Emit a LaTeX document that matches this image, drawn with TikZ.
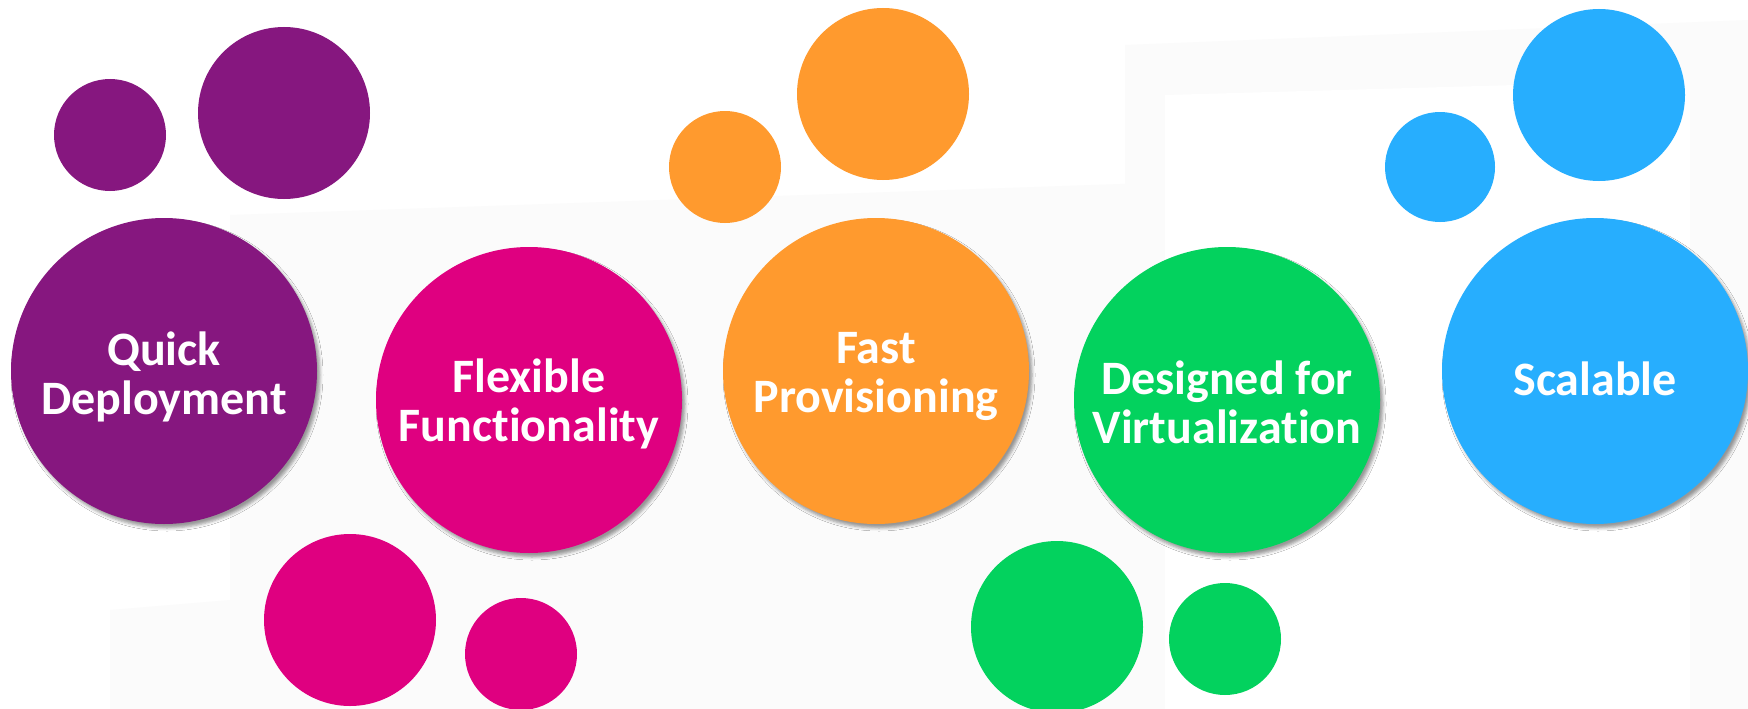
\documentclass[tikz,border=0pt]{standalone}
\usepackage{fontspec}
\setmainfont[Ligatures=NoCommon]{Carlito}
\usetikzlibrary{shadows.blur}

\begin{document}
\begin{tikzpicture}[x=1pt,y=-1pt]

% Colori
\definecolor{colQuick}{HTML}{86177F}
\definecolor{colFlex}{HTML}{DF0080}
\definecolor{colFast}{HTML}{FF9A2E}
\definecolor{colVirt}{HTML}{03D25E}
\definecolor{colScal}{HTML}{27AEFE}
\definecolor{bgGray}{HTML}{FBFBFB}

% Raggi
\def\rBig{153}
\def\rMed{86}
\def\rSmall{56}

\tikzset{
  bigball/.style={circle, inner sep=0pt, minimum size=2*\rBig,
    blur shadow={shadow xshift=3pt, shadow yshift=-4pt,
      shadow blur radius=3pt, shadow opacity=40}},
  medball/.style={circle, inner sep=0pt, minimum size=2*\rMed},
  smallball/.style={circle, inner sep=0pt, minimum size=2*\rSmall},
  balltext/.style={align=center, text=white, inner sep=0pt,
    font=\fontsize{48}{49}\selectfont\bfseries}
}

\useasboundingbox (0,0) rectangle (1748,709);
\fill[white] (0,0) rectangle (1748,709);

% Fogli sullo sfondo
\fill[bgGray] (230,215) -- (1235,180) -- (1235,709) -- (230,709) -- cycle;
\fill[bgGray] (110,610) -- (230,600) -- (230,709) -- (110,709) -- cycle;
\fill[bgGray] (1125,45) -- (1748,20) -- (1748,709) -- (1125,709) -- cycle;
\fill[white] (1165,95) -- (1690,80) -- (1690,709) -- (1165,709) -- cycle;

% Quick Deployment
\node[smallball, fill=colQuick] (qsmall) at (110,135) {};
\node[medball, fill=colQuick] (qmed) at (284,113) {};
\node[bigball, fill=colQuick] (quick) at (164,371) {};
\node[balltext] (quicklbl) at ([yshift=-6]quick.center) {Quick\\Deployment};

% Flexible Functionality
\node[medball, fill=colFlex] (fmed) at (350,620) {};
\node[smallball, fill=colFlex] (fsmall) at (521,654) {};
\node[bigball, fill=colFlex] (flex) at (529,400) {};
\node[balltext] (flexlbl) at ([yshift=-4]flex.center) {Flexible\\Functionality};

% Fast Provisioning
\node[smallball, fill=colFast] (psmall) at (725,167) {};
\node[medball, fill=colFast] (pmed) at (883,94) {};
\node[bigball, fill=colFast] (fast) at (876,371) {};
\node[balltext] (fastlbl) at ([yshift=-5]fast.center) {Fast\\Provisioning};

% Designed for Virtualization
\node[medball, fill=colVirt] (vmed) at (1057,627) {};
\node[smallball, fill=colVirt] (vsmall) at (1225,639) {};
\node[bigball, fill=colVirt] (virt) at (1227,400) {};
\node[balltext] (virtlbl) at ([yshift=-2]virt.center) {Designed for\\Virtualization};

% Scalable
\node[smallball, fill=colScal, minimum size=110] (ssmall) at (1440,167) {};
\node[medball, fill=colScal] (smed) at (1599,95) {};
\node[bigball, fill=colScal] (scal) at (1595,371) {};
\node[balltext] (scallbl) at ([yshift=-8]scal.center) {Scalable};

\end{tikzpicture}
\end{document}
